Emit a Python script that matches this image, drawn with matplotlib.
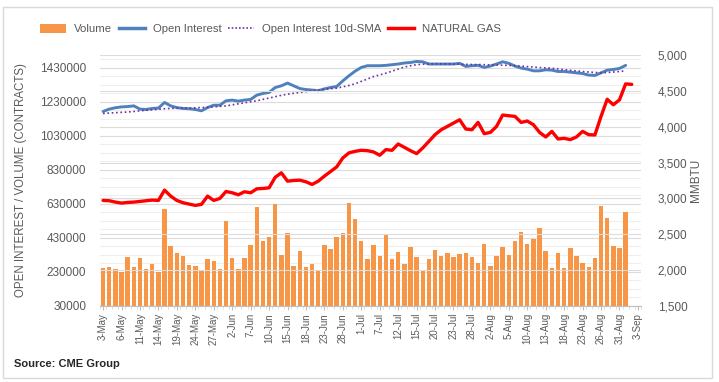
import matplotlib
matplotlib.use("Agg")
import matplotlib.pyplot as plt
import numpy as np
from matplotlib.patches import Patch, Rectangle
from matplotlib.lines import Line2D

plt.rcParams['font.family'] = ['Liberation Sans', 'DejaVu Sans']

# trading-day category labels (every 3rd trading day shown)
tick_labels = ["3-May", "6-May", "11-May", "14-May", "19-May", "24-May", "27-May",
               "2-Jun", "7-Jun", "10-Jun", "15-Jun", "18-Jun", "23-Jun", "28-Jun",
               "1-Jul", "7-Jul", "12-Jul", "15-Jul", "20-Jul", "23-Jul", "28-Jul",
               "2-Aug", "5-Aug", "10-Aug", "13-Aug", "18-Aug", "23-Aug", "26-Aug",
               "31-Aug", "3-Sep"]
n_categories = 88

volume = [255, 261, 248, 232, 318, 259, 312, 248, 277, 230,
          602, 381, 342, 322, 271, 265, 236, 308, 295, 248,
          530, 314, 248, 312, 389, 610, 412, 434, 628, 328,
          459, 265, 354, 259, 279, 242, 389, 365, 436, 459,
          638, 540, 412, 306, 389, 324, 453, 306, 349, 277,
          377, 318, 236, 306, 359, 324, 344, 318, 336, 342,
          318, 283, 395, 265, 324, 377, 330, 412, 463, 395,
          424, 491, 354, 253, 344, 253, 371, 324, 285, 261,
          312, 618, 546, 383, 371, 581]  # thousands of contracts

open_interest = [1173, 1187, 1195, 1200, 1202, 1206, 1187, 1185, 1191, 1193,
                 1226, 1206, 1196, 1191, 1189, 1185, 1177, 1196, 1210, 1210,
                 1236, 1240, 1234, 1240, 1244, 1269, 1279, 1285, 1314, 1324,
                 1340, 1324, 1308, 1302, 1299, 1295, 1306, 1314, 1320, 1353,
                 1383, 1410, 1432, 1442, 1442, 1442, 1444, 1448, 1452, 1458,
                 1461, 1467, 1465, 1452, 1452, 1452, 1452, 1452, 1456, 1438,
                 1442, 1444, 1432, 1440, 1452, 1465, 1456, 1440, 1428, 1422,
                 1412, 1412, 1418, 1416, 1408, 1408, 1404, 1400, 1396, 1387,
                 1385, 1400, 1416, 1420, 1426, 1444]  # thousands

oi_sma = [1161, 1164, 1166, 1168, 1170, 1173, 1177, 1180, 1183, 1186,
          1189, 1191, 1192, 1193, 1194, 1195, 1196, 1198, 1200, 1203,
          1206, 1212, 1218, 1224, 1230, 1236, 1244, 1252, 1260, 1268,
          1275, 1280, 1285, 1290, 1295, 1299, 1303, 1307, 1310, 1318,
          1326, 1336, 1350, 1364, 1378, 1388, 1398, 1410, 1422, 1434,
          1442, 1448, 1451, 1452, 1453, 1453, 1452, 1452, 1451, 1450,
          1449, 1449, 1448, 1447, 1446, 1445, 1444, 1442, 1440, 1437,
          1434, 1431, 1429, 1427, 1423, 1419, 1415, 1411, 1408, 1405,
          1402, 1401, 1402, 1405, 1408, 1412]  # thousands

natural_gas = [2972, 2968, 2949, 2935, 2944, 2949, 2958, 2968, 2977, 2972,
               3116, 3032, 2972, 2940, 2921, 2903, 2917, 3032, 2972, 3000,
               3097, 3079, 3051, 3093, 3079, 3134, 3139, 3148, 3295, 3357,
               3241, 3250, 3255, 3232, 3195, 3241, 3311, 3375, 3440, 3565,
               3635, 3657, 3671, 3666, 3648, 3602, 3681, 3671, 3759, 3713,
               3666, 3625, 3704, 3796, 3889, 3958, 4004, 4051, 4097, 3968,
               3958, 4060, 3903, 3921, 4004, 4163, 4153, 4144, 4060, 4079,
               4028, 3921, 3857, 3935, 3829, 3838, 3820, 3857, 3935, 3889,
               3885, 4144, 4383, 4306, 4375, 4597, 4590]  # price x1000

vol = np.array(volume) * 1000
oi = np.array(open_interest) * 1000
sma = np.array(oi_sma) * 1000
ng = np.array(natural_gas)

TXT = '#595959'
fig = plt.figure(figsize=(7.19, 3.82), dpi=100)
fig.patches.append(Rectangle((3/719, 1-378/382), 709/719, 371/382, transform=fig.transFigure,
                             fill=False, edgecolor='#d9d9d9', lw=1.0))

ax = fig.add_axes([100/719, 1-306/382, 541/719, 251/382])
ax2 = ax.twinx()

# gridlines
lmin, lmax = 30000, 1505000
for v in np.arange(30000, lmax, 50000):
    ax.axhline(v, color='#efefef', lw=0.8, zorder=0)
for v in np.arange(30000, lmax, 200000):
    ax.axhline(v, color='#dcdcdc', lw=0.8, zorder=0)
for v in np.arange(1500, 5001, 500):
    ax2.axhline(v, color='#dcdcdc', lw=0.8, zorder=0)

x = np.arange(len(vol))
ax.bar(x, vol, width=0.72, color='#F79646', zorder=2)
ax.plot(np.arange(len(oi)), oi, color='#4F81BD', lw=2.1, zorder=3, solid_capstyle='round')
ax.plot(np.arange(len(sma)), sma, color='#7030A0', lw=1.2, ls=(0, (1, 1.6)), zorder=4)
ax2.plot(np.arange(len(ng)), ng, color='#FF0000', lw=2.4, zorder=5, solid_capstyle='round')

ax.set_xlim(-0.5, n_categories - 0.5)
ax.set_ylim(lmin, lmax)
ax2.set_ylim(1500, 5000)

ax.set_yticks(np.arange(30000, 1430001, 200000))
ax.set_yticklabels([str(v) for v in np.arange(30000, 1430001, 200000)])
ax2.set_yticks(np.arange(1500, 5001, 500))
ax2.set_yticklabels([f"{v:,}" for v in np.arange(1500, 5001, 500)])

ax.set_xticks(np.arange(0, n_categories, 3))
ax.set_xticklabels(tick_labels, rotation=90, fontsize=7, color=TXT)
ax.set_xticks(np.arange(-0.5, n_categories, 1), minor=True)

for a in (ax, ax2):
    for s in ('top', 'left', 'right', 'bottom'):
        a.spines[s].set_visible(False)
ax.spines['bottom'].set_visible(True)
ax.spines['bottom'].set_color('#bfbfbf')
ax.tick_params(axis='y', length=0, labelsize=8.5, labelcolor=TXT, pad=10)
ax2.tick_params(axis='y', length=0, labelsize=8.5, labelcolor=TXT, pad=12)
ax.tick_params(axis='x', which='major', length=3, color='#bfbfbf', pad=2)
ax.tick_params(axis='x', which='minor', length=2, color='#d9d9d9')

ax.set_ylabel("OPEN INTEREST / VOLUME (CONTRACTS)", fontsize=8.3, color=TXT, labelpad=9)
ax2.set_ylabel("MMBTU", fontsize=8.5, color=TXT, labelpad=2)

handles = [Patch(facecolor='#F79646', edgecolor='none'),
           Line2D([], [], color='#4F81BD', lw=2.5),
           Line2D([], [], color='#7030A0', lw=1.2, ls=(0, (1, 1.2))),
           Line2D([], [], color='#FF0000', lw=2.5)]
labels = ["Volume", "Open Interest", "Open Interest 10d-SMA", "NATURAL GAS"]
leg = fig.legend(handles, labels, loc='center left', bbox_to_anchor=(30/719, 1-29/382),
                 ncol=4, frameon=False, prop={'size': 8.2},
                 handlelength=2.3, handleheight=0.8,
                 handletextpad=0.7, columnspacing=0.55, labelcolor=TXT)

fig.text(14/719, 1-364/382, "Source: CME Group", fontsize=8, fontweight='bold',
         color='#262626', va='center', ha='left')

fig.savefig("out.png", dpi=100)
